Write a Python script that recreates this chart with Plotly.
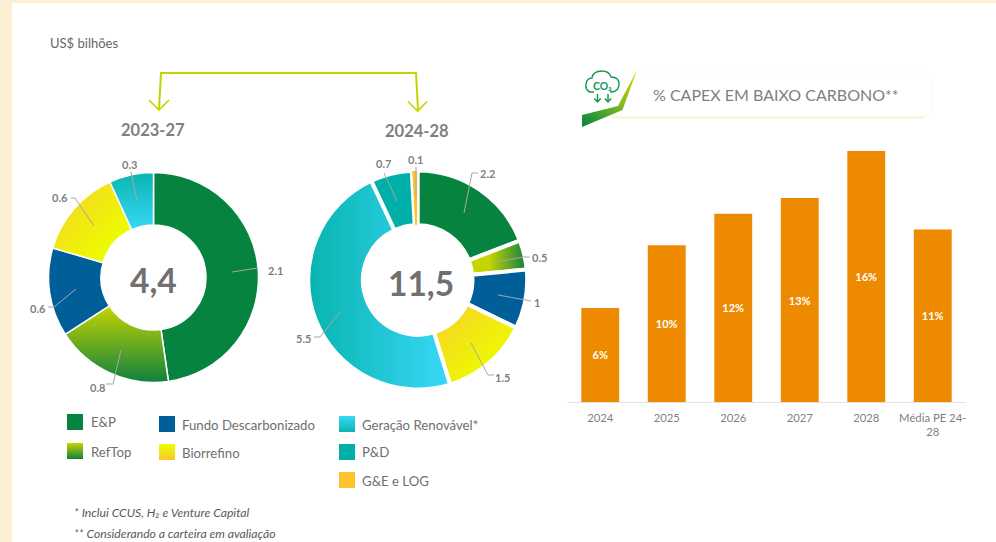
import plotly.graph_objects as go

W, H = 996, 542

# ---------- data ----------
categories = ["E&P", "RefTop", "Fundo Descarbonizado", "Biorrefino",
              "Geração Renovável*", "P&D", "G&E e LOG"]
values_2023_27 = [2.1, 0.8, 0.6, 0.6, 0.3]
values_2024_28 = [2.2, 0.5, 1, 1.5, 5.5, 0.7, 0.1]
total_2023_27 = "4,4"
total_2024_28 = "11,5"
bar_labels = ["2024", "2025", "2026", "2027", "2028", "Média PE 24-<br>28"]
bar_values = [6, 10, 12, 13, 16, 11]

# ---------- style ----------
FONT = "Lato"
GREY = "#7f7f7f"
CREAM = "#fbf0d2"
LEAD = "#a6a6a6"
LIME = "#c2d500"
ICON = "#129a52"
BASE = ["#06843f", "#6aaa20", "#005f99", "#f2e812", "#1cc4d0", "#00b0a8", "#fdc32c"]


def X(px):
    return px / W


def Y(py):
    return 1 - py / H


def dom(cx, cy, r):
    return dict(x=[X(cx - r), X(cx + r)], y=[Y(cy + r), Y(cy - r)])


fig = go.Figure()

fig.add_trace(go.Pie(
    values=values_2023_27, labels=categories[:5], sort=False, direction="clockwise",
    rotation=0, hole=0.5, domain=dom(153.5, 277.5, 105), textinfo="none",
    hoverinfo="label+value", showlegend=False,
    marker=dict(colors=BASE[:5], line=dict(color="white", width=1.5)),
))
fig.add_trace(go.Pie(
    values=values_2024_28, labels=categories, sort=False, direction="clockwise",
    rotation=0, hole=0.5, domain=dom(417.7, 280, 109.5), textinfo="none",
    hoverinfo="label+value", showlegend=False,
    marker=dict(colors=BASE, line=dict(color="white", width=[4, 4, 4, 4, 4, 4, 1])),
))
fig.add_trace(go.Bar(
    x=bar_labels, y=bar_values, width=0.57, marker=dict(color="#ee8a00", line=dict(width=0)),
    text=[f"{v}%" for v in bar_values], textposition="inside", insidetextanchor="middle",
    textangle=0, constraintext="none",
    textfont=dict(family=FONT, size=11, color="white", weight="bold"),
    showlegend=False, hoverinfo="x+y",
))

shapes = []
ann = []


def text(px, py, s, size, color=GREY, xanchor="center", bold=False, italic=False):
    ann.append(dict(
        x=X(px), y=Y(py), xref="paper", yref="paper", text=s, showarrow=False,
        xanchor=xanchor, yanchor="middle", borderpad=0, borderwidth=0,
        font=dict(family=FONT, size=size, color=color,
                  weight="bold" if bold else "normal",
                  style="italic" if italic else "normal"),
    ))


def poly(points, line=None, width=1, fill=None, close=False, layer="above"):
    d = "M" + " L".join(f"{X(a):.5f},{Y(b):.5f}" for a, b in points) + (" Z" if close else "")
    shapes.append(dict(type="path", xref="paper", yref="paper", path=d, layer=layer,
                       line=dict(color=line or "rgba(0,0,0,0)", width=width if line else 0),
                       fillcolor=fill or "rgba(0,0,0,0)"))


def rect(x0, y0, x1, y1, fill, layer="above"):
    shapes.append(dict(type="rect", xref="paper", yref="paper", layer=layer,
                       x0=X(x0), x1=X(x1), y0=Y(y0), y1=Y(y1),
                       fillcolor=fill, line=dict(width=0)))


# page card
rect(12, 3, 996, 542, "white", layer="below")

# headers
text(50, 43, "US$ bilhões", 13, "#666666", xanchor="left")
text(153, 130, "2023-27", 16.5, bold=True)
text(417, 131, "2024-28", 16.5, bold=True)
text(153.5, 280, total_2023_27, 33.5, "#6f7072", bold=True)
text(420.5, 283, total_2024_28, 33.5, "#6f7072", bold=True)

# lime bracket
poly([(159, 109), (161, 73), (416, 73), (418, 110)], line=LIME, width=2)
poly([(149, 100), (159, 110), (169, 100)], line=LIME, width=1.6)
poly([(408, 101.5), (417.7, 111), (427, 101.5)], line=LIME, width=1.6)

# value labels with leader lines
labels_a = [(values_2023_27[0], 275, 270, [(232, 272), (258, 268)]),
            (values_2023_27[1], 97, 387, [(121, 350), (113, 384), (106, 384)]),
            (values_2023_27[2], 38, 308, [(76, 289), (54, 307), (48, 307)]),
            (values_2023_27[3], 60, 198, [(94, 226), (75, 198), (71, 198)]),
            (values_2023_27[4], 129, 164, [(137, 201), (131, 172)])]
labels_b = [(values_2024_28[0], 487, 173, [(464, 213), (472, 173), (478, 173)]),
            (values_2024_28[1], 539, 257, [(497, 262), (523, 257), (530, 257)]),
            (values_2024_28[2], 537, 302, [(498, 295), (531, 301)]),
            (values_2024_28[3], 503, 377, [(471, 343), (488, 375), (494, 375)]),
            (values_2024_28[4], 303, 338, [(341, 311), (320, 337), (314, 337)]),
            (values_2024_28[5], 383, 163, [(397, 201), (384, 173)]),
            (values_2024_28[6], 415, 159, [(416, 198), (416, 167)])]
for v, tx, ty, pts in labels_a + labels_b:
    poly(pts, line=LEAD, width=1)
    text(tx, ty, str(v), 11, bold=True)

# legend (fills replaced by gradients in post script where needed)
legend_pos = [(67, 414, 91, 422), (67, 443, 91, 452), (159, 416, 182, 424.5),
              (159, 444, 182, 453), (339, 416, 361.7, 425), (339, 444, 361.7, 452),
              (339, 472, 361.7, 481)]
LEGEND_FILL = ["#06843f", "#010101", "#005f99", "#020202", "#030303", "#00b0a8", "#fdc32c"]
for name, (sx, sy, tx, ty), fill in zip(categories, legend_pos, LEGEND_FILL):
    rect(sx, sy, sx + 16, sy + 16, fill)
    text(tx, ty, name, 13.2, "#6f6f6f", xanchor="left")

# footnotes
text(74, 512, "* Inclui CCUS, H₂ e Venture Capital", 12.2, "#595959", xanchor="left", italic=True)
text(74, 533, "** Considerando a carteira em avaliação", 12.2, "#595959", xanchor="left", italic=True)

# banner
shapes.append(dict(type="path", xref="paper", yref="paper",
                   path=f"M{X(630):.5f},{Y(72):.5f} L{X(924):.5f},{Y(72):.5f} "
                        f"Q{X(931):.5f},{Y(72):.5f} {X(931):.5f},{Y(79):.5f} "
                        f"L{X(931):.5f},{Y(110):.5f} Q{X(931):.5f},{Y(117):.5f} {X(924):.5f},{Y(117):.5f} "
                        f"L{X(615):.5f},{Y(117):.5f}",
                   fillcolor="white", line=dict(color="#fbfcf0", width=1)))
poly([(612, 117.5), (925, 117.5)], line="#f2f5d2", width=2.2)
poly([(582, 127), (582, 115), (618, 106), (637, 70), (622.5, 110)], fill="#040404", close=True)
text(653, 95, "% CAPEX EM BAIXO CARBONO**", 16, GREY, xanchor="left")

# CO2 cloud icon
shapes.append(dict(type="path", xref="paper", yref="paper",
                   path=" ".join([
                       f"M{X(594):.5f},{Y(92):.5f}", f"L{X(590):.5f},{Y(92):.5f}",
                       f"Q{X(585):.5f},{Y(90):.5f} {X(586):.5f},{Y(84):.5f}",
                       f"Q{X(587):.5f},{Y(78):.5f} {X(592):.5f},{Y(78):.5f}",
                       f"Q{X(593):.5f},{Y(71):.5f} {X(602):.5f},{Y(71):.5f}",
                       f"Q{X(609):.5f},{Y(71):.5f} {X(611):.5f},{Y(77):.5f}",
                       f"Q{X(619):.5f},{Y(77):.5f} {X(619):.5f},{Y(84):.5f}",
                       f"Q{X(619):.5f},{Y(91):.5f} {X(612):.5f},{Y(92):.5f}",
                       f"L{X(610):.5f},{Y(92):.5f}"]),
                   line=dict(color=ICON, width=1.4)))
text(602.5, 86, "CO₂", 10.5, ICON, bold=True)
for ax in (597.5, 608):
    poly([(ax, 94), (ax, 101.5)], line=ICON, width=1.5)
    poly([(ax - 3.2, 98.5), (ax, 102), (ax + 3.2, 98.5)], line=ICON, width=1.5)

fig.update_layout(
    width=W, height=H, autosize=False, margin=dict(l=0, r=0, t=0, b=0, pad=0),
    paper_bgcolor=CREAM, plot_bgcolor="rgba(0,0,0,0)",
    font=dict(family=FONT, color=GREY),
    bargap=0.43,
    xaxis=dict(domain=[X(567), X(966)], anchor="y", showgrid=False, zeroline=False,
               showline=True, linecolor="#e3e3e3", linewidth=1, ticks="", ticklabelstandoff=5,
               tickfont=dict(family=FONT, size=11.3, color=GREY), tickangle=0, fixedrange=True),
    yaxis=dict(domain=[Y(402), Y(151)], range=[0, 16], visible=False, fixedrange=True),
    shapes=shapes, annotations=ann,
)

POST = r"""
document.documentElement.style.margin = '0';
document.documentElement.style.overflow = 'hidden';
document.body.style.margin = '0';
document.body.style.padding = '0';
document.body.style.overflow = 'hidden';
var gd = document.querySelector('.plotly-graph-div');
gd.style.position = 'absolute';
gd.style.left = '0px';
gd.style.top = '0px';
var svg = gd.querySelector('svg.main-svg');
var NS = 'http://www.w3.org/2000/svg';
var defs = svg.querySelector('defs') || svg.insertBefore(document.createElementNS(NS,'defs'), svg.firstChild);
function grad(id, x1, y1, x2, y2, stops) {
  var g = document.createElementNS(NS, 'linearGradient');
  g.setAttribute('id', id);
  g.setAttribute('x1', x1); g.setAttribute('y1', y1);
  g.setAttribute('x2', x2); g.setAttribute('y2', y2);
  stops.forEach(function (s) {
    var st = document.createElementNS(NS, 'stop');
    st.setAttribute('offset', s[0]); st.setAttribute('stop-color', s[1]);
    g.appendChild(st);
  });
  defs.appendChild(g);
  return 'url(#' + id + ')';
}
var ref1 = grad('gRef1', 0, 0, 0, 1, [[0, '#c6d400'], [1, '#0f8040']]);
var ref2 = grad('gRef2', 0, 0, 1, 0, [[0.35, '#c6d400'], [1, '#0f8040']]);
var bio  = grad('gBio', 0, 0, 1, 1, [[0.1, '#f8d425'], [0.75, '#ecfb00']]);
var ger1 = grad('gGer1', 0, 0, 0, 1, [[0, '#0ab5b0'], [1, '#38d8f8']]);
var ger2 = grad('gGer2', 0, 0, 1, 0, [[0, '#08b4ae'], [1, '#38d8f8']]);
var lRef = grad('gLRef', 0, 0, 0, 1, [[0, '#c6d400'], [1, '#0f8040']]);
var lBio = grad('gLBio', 0, 0, 0, 1, [[0.1, '#ecfb00'], [1, '#fcc62d']]);
var lGer = grad('gLGer', 0, 0, 0, 1, [[0, '#38d8f8'], [1, '#0ab5b0']]);
var swo  = grad('gSwo', 0, 1, 1, 0, [[0, '#06843f'], [0.55, '#7dbb1f'], [1, '#d0dc00']]);
var traces = gd.querySelectorAll('.pielayer .trace');
var maps = [{1: ref1, 3: bio, 4: ger1}, {1: ref2, 3: bio, 4: ger2}];
traces.forEach(function (t, i) {
  t.querySelectorAll('.slice path.surface').forEach(function (p, j) {
    if (maps[i][j]) p.style.fill = maps[i][j];
  });
});
var m = {'rgb(1, 1, 1)': lRef, 'rgb(2, 2, 2)': lBio, 'rgb(3, 3, 3)': lGer, 'rgb(4, 4, 4)': swo};
gd.querySelectorAll('.shapelayer path').forEach(function (p) {
  var f = p.style.fill;
  if (m[f]) p.style.fill = m[f];
});
"""
fig.write_html("out.html", post_script=POST, config={"displayModeBar": False})
